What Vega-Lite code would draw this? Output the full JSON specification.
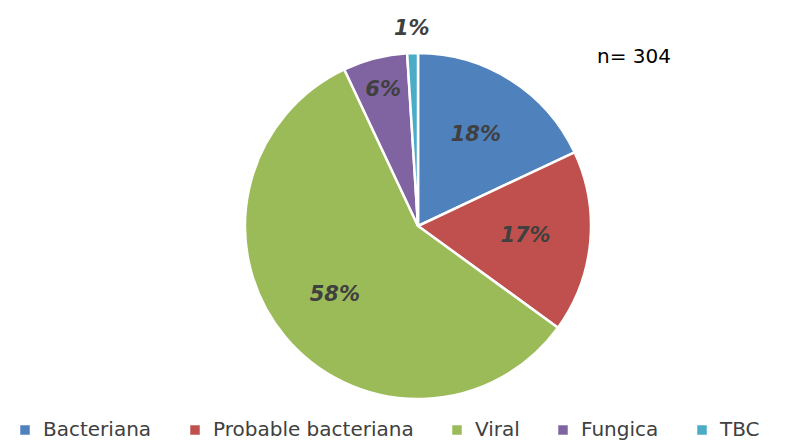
{
  "$schema": "https://vega.github.io/schema/vega-lite/v6.json",
  "width": 798,
  "height": 442,
  "autosize": {"type": "none"},
  "padding": 0,
  "background": "white",
  "config": {"view": {"stroke": null}, "font": "DejaVu Sans"},
  "title": {
    "text": "n= 304",
    "anchor": "start",
    "frame": "group",
    "orient": "top",
    "baseline": "top",
    "dx": 597,
    "dy": 67,
    "offset": 0,
    "fontSize": 20,
    "fontWeight": "normal",
    "color": "#000000",
    "font": "DejaVu Sans"
  },
  "data": {
    "values": [
      {"tipo": "Bacteriana", "pct": 18, "orden": 1},
      {"tipo": "Probable bacteriana", "pct": 17, "orden": 2},
      {"tipo": "Viral", "pct": 58, "orden": 3},
      {"tipo": "Fungica", "pct": 6, "orden": 4},
      {"tipo": "TBC", "pct": 1, "orden": 5}
    ]
  },
  "encoding": {
    "theta": {"field": "pct", "type": "quantitative", "stack": true},
    "order": {"field": "orden", "type": "quantitative"},
    "color": {
      "field": "tipo",
      "type": "nominal",
      "sort": ["Bacteriana", "Probable bacteriana", "Viral", "Fungica", "TBC"],
      "scale": {
        "domain": ["Bacteriana", "Probable bacteriana", "Viral", "Fungica", "TBC"],
        "range": ["#4F81BD", "#C0504D", "#9BBB59", "#8064A2", "#4BACC6"]
      },
      "legend": {
        "title": null,
        "orient": "none",
        "direction": "horizontal",
        "legendX": 15,
        "legendY": 420,
        "symbolType": "square",
        "symbolSize": 90,
        "symbolStrokeWidth": 0,
        "labelFontSize": 20,
        "labelFont": "DejaVu Sans",
        "labelColor": "#404040",
        "labelLimit": 400,
        "columnPadding": 33,
        "labelOffset": 8
      }
    }
  },
  "layer": [
    {
      "mark": {"type": "arc", "x": 418, "y": 226, "outerRadius": 173, "stroke": "white", "strokeWidth": 2.5}
    },
    {
      "mark": {"type": "text", "x": 418, "y": 226, "radius": 108, "fontSize": 21, "fontStyle": "italic", "fontWeight": "bold", "text": {"expr": "datum.pct >= 10 ? datum.pct + '%' : ''"}},
      "encoding": {"color": {"value": "#404040"}}
    },
    {
      "mark": {"type": "text", "x": 418, "y": 226, "radius": 140, "fontSize": 21, "fontStyle": "italic", "fontWeight": "bold", "text": {"expr": "datum.tipo === 'Fungica' ? datum.pct + '%' : ''"}},
      "encoding": {"color": {"value": "#404040"}}
    },
    {
      "mark": {"type": "text", "x": 418, "y": 226, "radius": 197, "fontSize": 21, "fontStyle": "italic", "fontWeight": "bold", "text": {"expr": "datum.tipo === 'TBC' ? datum.pct + '%' : ''"}},
      "encoding": {"color": {"value": "#404040"}}
    }
  ]
}
